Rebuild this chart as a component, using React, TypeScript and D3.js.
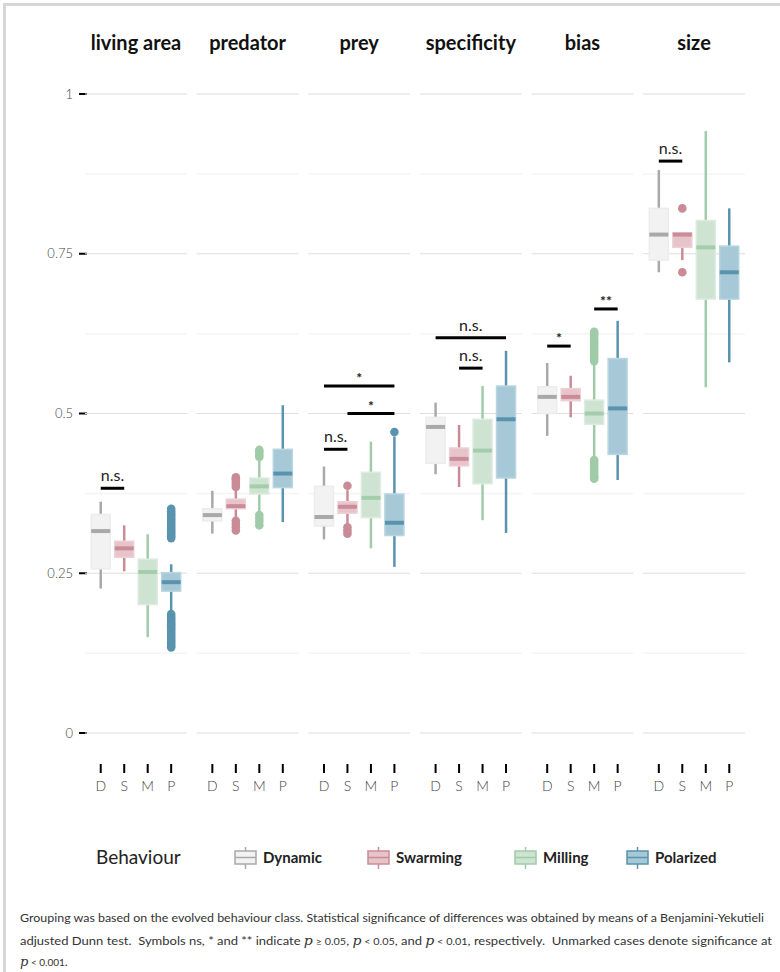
import React from "react";
import * as d3 from "d3";

const panels = ["living area", "predator", "prey", "specificity", "bias", "size"];
const groups = ["Dynamic", "Swarming", "Milling", "Polarized"];
const groupTicks = ["D", "S", "M", "P"];
const yTicks = [0, 0.25, 0.5, 0.75, 1];
const yTickLabels = ["0", "0.25", "0.5", "0.75", "1"];
const yMinor = [0.125, 0.375, 0.625, 0.875];

// [lower whisker, q1, median, q3, upper whisker] per panel, per group
const livingArea = [
  [0.226, 0.257, 0.316, 0.342, 0.362],
  [0.253, 0.275, 0.289, 0.3, 0.325],
  [0.15, 0.201, 0.252, 0.272, 0.311],
  [0.192, 0.222, 0.236, 0.251, 0.264],
];
const predator = [
  [0.312, 0.332, 0.341, 0.351, 0.379],
  [0.337, 0.351, 0.355, 0.366, 0.381],
  [0.342, 0.374, 0.386, 0.399, 0.43],
  [0.33, 0.384, 0.406, 0.444, 0.513],
];
const prey = [
  [0.303, 0.324, 0.338, 0.386, 0.417],
  [0.328, 0.344, 0.354, 0.362, 0.38],
  [0.289, 0.337, 0.368, 0.408, 0.456],
  [0.26, 0.309, 0.329, 0.374, 0.464],
];
const specificity = [
  [0.405, 0.422, 0.479, 0.494, 0.517],
  [0.385, 0.418, 0.429, 0.446, 0.482],
  [0.333, 0.39, 0.442, 0.491, 0.543],
  [0.313, 0.399, 0.491, 0.543, 0.598],
];
const bias = [
  [0.465, 0.5, 0.526, 0.542, 0.579],
  [0.494, 0.52, 0.526, 0.539, 0.559],
  [0.43, 0.483, 0.5, 0.521, 0.579],
  [0.396, 0.436, 0.508, 0.586, 0.645],
];
const size = [
  [0.721, 0.74, 0.78, 0.821, 0.881],
  [0.74, 0.76, 0.78, 0.783, 0.783],
  [0.541, 0.679, 0.76, 0.802, 0.942],
  [0.58, 0.679, 0.721, 0.762, 0.821],
];
const stats = [livingArea, predator, prey, specificity, bias, size];

// outliers: panel index, group index, values
const outliers: [number, number, number[]][] = [
  [0, 3, [0.351, 0.347, 0.344, 0.341, 0.338, 0.335, 0.332, 0.329, 0.326, 0.323, 0.32, 0.317, 0.314, 0.311, 0.308, 0.305]],
  [0, 3, [0.186, 0.182, 0.179, 0.176, 0.173, 0.17, 0.167, 0.164, 0.161, 0.158, 0.155, 0.152, 0.149, 0.146, 0.143, 0.14, 0.137, 0.134]],
  [1, 1, [0.385, 0.389, 0.393, 0.397, 0.4, 0.332, 0.327, 0.322, 0.317]],
  [1, 2, [0.432, 0.436, 0.44, 0.443, 0.341, 0.336, 0.331, 0.325]],
  [2, 1, [0.387, 0.322, 0.317, 0.312]],
  [2, 3, [0.471]],
  [4, 2, [0.582, 0.586, 0.59, 0.594, 0.598, 0.602, 0.606, 0.61, 0.614, 0.618, 0.622, 0.625, 0.628]],
  [4, 2, [0.427, 0.423, 0.419, 0.415, 0.411, 0.407, 0.403, 0.4, 0.398]],
  [5, 1, [0.821, 0.721]],
];

// significance: panel, from group, to group, height, label
const sigPanel = [0, 2, 2, 2, 3, 3, 4, 4, 5];
const sigFrom = [0, 0, 1, 0, 1, 0, 0, 2, 0];
const sigTo = [1, 1, 3, 3, 2, 3, 1, 3, 1];
const sigY = [0.383, 0.444, 0.5, 0.543, 0.571, 0.6185, 0.6055, 0.6636, 0.895];
const sigLabel = ["n.s.", "n.s.", "*", "*", "n.s.", "n.s.", "*", "**", "n.s."];

const fills = ["#f2f2f2", "#e6c4ca", "#cfe3d3", "#a7c9d7"];
const edges = ["#ececec", "#ecd1d6", "#dcecdf", "#b9d5e0"];
const lines = ["#a9a9a9", "#c98c97", "#a0cba8", "#5a93ad"];
const medians = ["#a9a9a9", "#cb8c98", "#a3cdab", "#5a93ad"];

const FONT = "Lato, 'Open Sans', sans-serif";

export default function App() {
  const W = 780;
  const H = 972;
  const y = d3.scaleLinear().domain([0, 1]).range([733, 94]);
  const px = d3.scaleBand<string>().domain(panels).range([85, 745]).paddingInner(0.087).paddingOuter(0);
  const bw = px.bandwidth();
  const boxW = 19;

  const legendIcon = [235, 368, 515, 627];

  return (
    <svg width={W} height={H} style={{ position: "absolute", left: 0, top: 0, background: "#fff" }} fontFamily={FONT}>
      <rect x={0} y={0} width={W} height={H} fill="#fff" />
      <line x1={4.5} x2={4.5} y1={3} y2={H} stroke="#d6d6d6" strokeWidth={3} />
      <line x1={3} x2={W} y1={4.5} y2={4.5} stroke="#d6d6d6" strokeWidth={3} />

      {/* y axis */}
      {yTicks.map((t, i) => (
        <g key={"yt" + i}>
          <line x1={79} x2={87} y1={y(t)} y2={y(t)} stroke="#000" strokeWidth={2} />
          <text x={73} y={y(t)} dy="0.35em" textAnchor="end" fontSize={13} fontWeight={300} fill="#444">
            {yTickLabels[i]}
          </text>
        </g>
      ))}

      {panels.map((p, pi) => {
        const x0 = px(p)!;
        const gx = d3.scalePoint<string>().domain(groups).range([x0, x0 + bw]).padding(0.67);
        return (
          <g key={p}>
            <text x={x0 + bw / 2} y={50} textAnchor="middle" fontSize={20} fontWeight={700} fill="#111">
              {p}
            </text>
            {yMinor.map((t) => (
              <line key={"mn" + t} x1={x0} x2={x0 + bw} y1={y(t)} y2={y(t)} stroke="#f4f4f4" strokeWidth={1.5} />
            ))}
            {yTicks.map((t) => (
              <line key={"mj" + t} x1={x0} x2={x0 + bw} y1={y(t)} y2={y(t)} stroke="#dedede" strokeWidth={1.2} />
            ))}
            {groups.map((g, gi) => {
              const cx = gx(g)!;
              const [lo, q1, med, q3, hi] = stats[pi][gi];
              return (
                <g key={g}>
                  <line x1={cx} x2={cx} y1={y(q3)} y2={y(hi)} stroke={lines[gi]} strokeWidth={2.5} />
                  <line x1={cx} x2={cx} y1={y(q1)} y2={y(lo)} stroke={lines[gi]} strokeWidth={2.5} />
                  <rect
                    x={cx - boxW / 2}
                    y={y(q3)}
                    width={boxW}
                    height={Math.max(0.5, y(q1) - y(q3))}
                    fill={fills[gi]}
                    stroke={edges[gi]}
                    strokeWidth={1.5}
                  />
                  <line x1={cx - boxW / 2} x2={cx + boxW / 2} y1={y(med)} y2={y(med)} stroke={medians[gi]} strokeWidth={4} />
                </g>
              );
            })}
            {outliers
              .filter((o) => o[0] === pi)
              .map((o, oi) =>
                o[2].map((v, vi) => (
                  <circle key={oi + "-" + vi} cx={gx(groups[o[1]])!} cy={y(v)} r={4.3} fill={lines[o[1]]} />
                ))
              )}
            {groupTicks.map((t, gi) => {
              const cx = gx(groups[gi])!;
              return (
                <g key={"xt" + t}>
                  <line x1={cx} x2={cx} y1={764} y2={773} stroke="#000" strokeWidth={2} />
                  <text x={cx} y={791} textAnchor="middle" fontSize={14} fontWeight={300} fill="#444">
                    {t}
                  </text>
                </g>
              );
            })}
            {sigPanel.map((sp, si) => {
              if (sp !== pi) return null;
              const xa = gx(groups[sigFrom[si]])!;
              const xb = gx(groups[sigTo[si]])!;
              const yy = y(sigY[si]);
              const isStar = sigLabel[si].startsWith("*");
              return (
                <g key={"sig" + si}>
                  <line x1={xa} x2={xb} y1={yy} y2={yy} stroke="#000" strokeWidth={3} />
                  <text
                    x={(xa + xb) / 2}
                    y={isStar ? yy - 3 : yy - 7}
                    textAnchor="middle"
                    fontSize={isStar ? 14 : 16}
                    fontWeight={isStar ? 700 : 400}
                    fill="#222"
                  >
                    {sigLabel[si]}
                  </text>
                </g>
              );
            })}
          </g>
        );
      })}

      {/* legend */}
      <text x={96} y={864} fontSize={19} fill="#222">
        Behaviour
      </text>
      {groups.map((g, gi) => {
        const lx = legendIcon[gi];
        return (
          <g key={"lg" + g}>
            <line x1={lx + 10.5} x2={lx + 10.5} y1={847} y2={869} stroke={lines[gi]} strokeWidth={1.5} />
            <rect x={lx} y={851} width={21} height={13} fill={fills[gi]} stroke={lines[gi]} strokeWidth={1.5} />
            <line x1={lx} x2={lx + 21} y1={857.5} y2={857.5} stroke={lines[gi]} strokeWidth={1.5} />
            <text x={lx + 28} y={863} fontSize={15} fontWeight={700} fill="#222">
              {g}
            </text>
          </g>
        );
      })}

      {/* caption */}
      <g fontSize={12} fill="#333">
        <text x={20} y={922} textLength={744} lengthAdjust="spacingAndGlyphs">
          Grouping was based on the evolved behaviour class. Statistical significance of differences was obtained by means of a Benjamini-Yekutieli
        </text>
        <text x={20} y={945} textLength={752} lengthAdjust="spacingAndGlyphs">
          adjusted Dunn test.{"\u00a0 "}Symbols ns, * and ** indicate{" "}
          <tspan fontFamily="'DejaVu Serif', serif" fontStyle="italic" fontSize={13}>p</tspan>
          <tspan fontSize={10}> ≥ 0.05</tspan>,{" "}
          <tspan fontFamily="'DejaVu Serif', serif" fontStyle="italic" fontSize={13}>p</tspan>
          <tspan fontSize={10}> {"<"} 0.05</tspan>, and{" "}
          <tspan fontFamily="'DejaVu Serif', serif" fontStyle="italic" fontSize={13}>p</tspan>
          <tspan fontSize={10}> {"<"} 0.01</tspan>, respectively.{"\u00a0 "}Unmarked cases denote significance at
        </text>
        <text x={20} y={966}>
          <tspan fontFamily="'DejaVu Serif', serif" fontStyle="italic" fontSize={13}>p</tspan>
          <tspan fontSize={10}> {"<"} 0.001</tspan>.
        </text>
      </g>
    </svg>
  );
}
